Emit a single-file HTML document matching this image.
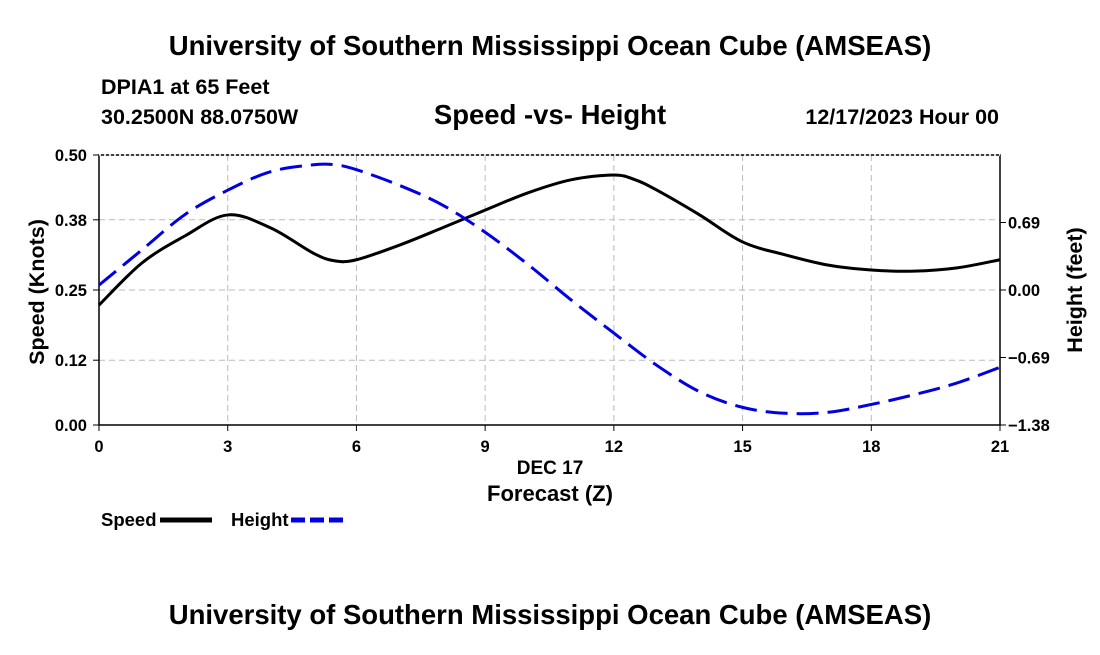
<!DOCTYPE html>
<html><head><meta charset="utf-8"><style>
body{margin:0;background:#fff;}
svg text{font-family:"Liberation Sans",sans-serif;font-weight:bold;fill:#000;}
</style></head><body>
<svg width="1100" height="650">
<text x="550" y="55" text-anchor="middle" font-size="27.5">University of Southern Mississippi Ocean Cube (AMSEAS)</text>
<text x="101" y="94" font-size="21.5">DPIA1 at 65 Feet</text>
<text x="101" y="124" font-size="21.5">30.2500N  88.0750W</text>
<text x="550" y="124" text-anchor="middle" font-size="27.5">Speed -vs- Height</text>
<text x="999" y="124" text-anchor="end" font-size="21.5">12/17/2023 Hour 00</text>
<g id="grid"></g>
<rect x="99" y="155" width="901" height="270" fill="none" stroke="#000" stroke-width="1.5"/>
<line x1="99" y1="155" x2="1000" y2="155" stroke="#fff" stroke-width="1.5" stroke-dasharray="2,3"/>
<g id="axes"></g>
<g id="series"></g>
<text x="550" y="474" text-anchor="middle" font-size="19">DEC 17</text>
<text x="550" y="501" text-anchor="middle" font-size="22">Forecast (Z)</text>
<text transform="translate(44,292) rotate(-90)" text-anchor="middle" font-size="21.5">Speed (Knots)</text>
<text transform="translate(1082,290) rotate(-90)" text-anchor="middle" font-size="21.5">Height (feet)</text>
<g><text x="101" y="526" font-size="18.5">Speed</text><line x1="160" y1="520" x2="212" y2="520" stroke="#000" stroke-width="5"/></g>
<g><text x="231" y="526" font-size="18.5">Height</text><line x1="291" y1="520" x2="343" y2="520" stroke="#0000e0" stroke-width="5" stroke-dasharray="14,5"/></g>
<text x="550" y="624" text-anchor="middle" font-size="27.5">University of Southern Mississippi Ocean Cube (AMSEAS)</text>
</svg>
<script>
const hours=[0,1,2,3,4,5,5.5,6,7,8,9,10,11,12,12.5,13,14,15,16,17,18,19,20,21];
const speed=[0.222,0.30,0.35,0.389,0.365,0.318,0.304,0.306,0.333,0.365,0.398,0.43,0.454,0.463,0.454,0.435,0.389,0.339,0.315,0.296,0.287,0.285,0.291,0.306];
const heightHours=[0,1,2,3,4,5,5.5,6,7,8,9,10,11,12,13,14,15,16,17,18,19,20,21];
const heightVals=[0.05,0.41,0.77,1.02,1.21,1.28,1.28,1.23,1.07,0.87,0.59,0.26,-0.10,-0.44,-0.77,-1.04,-1.20,-1.26,-1.25,-1.17,-1.07,-0.95,-0.79];
const xTicks=[0,3,6,9,12,15,18,21];
const leftTicks=["0.00","0.12","0.25","0.38","0.50"];
const rightTicks=["-1.38","-0.69","0.00","0.69"];
const NS="http://www.w3.org/2000/svg";
const X=h=>99+h/21*901, YL=v=>425-v/0.5*270, YR=v=>290-v/1.38*135;
function mk(t,a,p){const e=document.createElementNS(NS,t);for(const k in a)e.setAttribute(k,a[k]);document.getElementById(p).appendChild(e);return e;}
xTicks.forEach(t=>{
 if(t>0&&t<21){const g=mk('line',{x1:X(t),x2:X(t),y1:155,y2:425,stroke:'#bbb','stroke-dasharray':'6,4'},'grid');
 
 }
 mk('line',{x1:X(t),x2:X(t),y1:425,y2:431,stroke:'#000'},'axes');
 const l=mk('text',{x:X(t),y:452,'text-anchor':'middle','font-size':16.5},'axes');l.textContent=t;
 
 
});
leftTicks.forEach(s=>{const y=YL(+s);
 if(+s>0&&+s<0.5){const g=mk('line',{x1:99,x2:1000,y1:y,y2:y,stroke:'#bbb','stroke-dasharray':'6,4'},'grid');
 
 }
 mk('line',{x1:93,x2:99,y1:y,y2:y,stroke:'#000'},'axes');
 const l=mk('text',{x:87,y:y+6,'text-anchor':'end','font-size':16.5},'axes');l.textContent=s;
 
 
});
rightTicks.forEach(s=>{const y=YR(+s);
 mk('line',{x1:1000,x2:1006,y1:y,y2:y,stroke:'#000'},'axes');
 const l=mk('text',{x:1008,y:y+6,'font-size':16.5},'axes');l.textContent=s.replace('-','\u2212');
 
 
});
function path(xs,ys){const p=xs.map((x,i)=>[x,ys[i]]);let d='M'+p[0][0]+','+p[0][1];
 for(let i=0;i<p.length-1;i++){const a=p[i-1]||p[i],b=p[i],c=p[i+1],e=p[i+2]||c;
 d+=` C${b[0]+(c[0]-a[0])/6},${b[1]+(c[1]-a[1])/6} ${c[0]-(e[0]-b[0])/6},${c[1]-(e[1]-b[1])/6} ${c[0]},${c[1]}`;}return d;}
const s=mk('path',{d:path(hours.map(X),speed.map(YL)),fill:'none',stroke:'#000','stroke-width':3},'series');


const h=mk('path',{d:path(heightHours.map(X),heightVals.map(YR)),fill:'none',stroke:'#0000e0','stroke-width':3,'stroke-dasharray':'22,9'},'series');


</script>
</body></html>
